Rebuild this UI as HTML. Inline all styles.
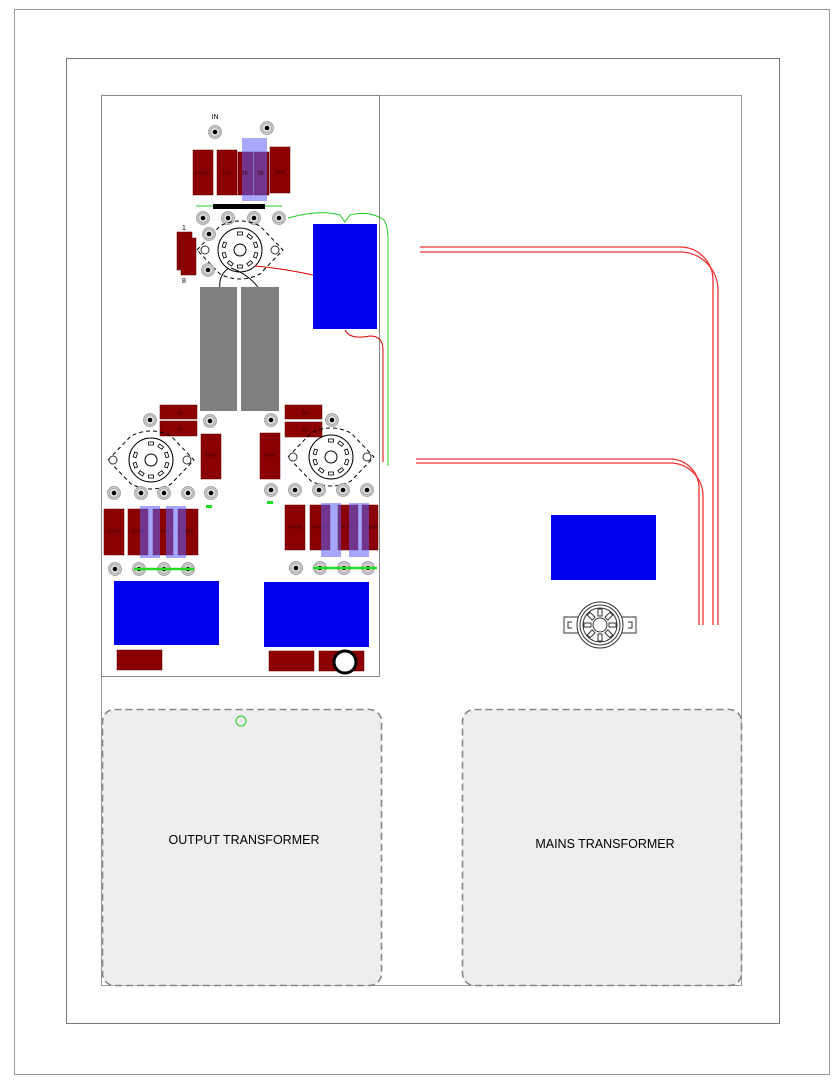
<!DOCTYPE html>
<html><head><style>body{margin:0;background:#fff}svg{display:block}</style></head><body>
<svg width="839" height="1080" viewBox="0 0 839 1080" xmlns="http://www.w3.org/2000/svg" font-family="Liberation Sans, sans-serif">
<defs>
<g id="t"><circle r="6.5" fill="#c8c8c8" stroke="#999" stroke-width="0.8"/><circle r="4.3" fill="#e6e6e6" stroke="#999" stroke-width="0.6"/><circle r="2.3" fill="#000"/></g>
<g id="pins" fill="#fff" stroke="#000" stroke-width="0.8">
<rect x="-2.5" y="-18" width="5" height="3"/>
<rect x="-2.5" y="-18" width="5" height="3" transform="rotate(36)"/>
<rect x="-2.5" y="-18" width="5" height="3" transform="rotate(72)"/>
<rect x="-2.5" y="-18" width="5" height="3" transform="rotate(108)"/>
<rect x="-2.5" y="-18" width="5" height="3" transform="rotate(144)"/>
<rect x="-2.5" y="-18" width="5" height="3" transform="rotate(180)"/>
<rect x="-2.5" y="-18" width="5" height="3" transform="rotate(216)"/>
<rect x="-2.5" y="-18" width="5" height="3" transform="rotate(252)"/>
<rect x="-2.5" y="-18" width="5" height="3" transform="rotate(288)"/>
</g>
<g id="sock">
<path d="M-43 0 L-20 -24 Q0 -34 20 -24 L43 0 L20 24 Q0 34 -20 24 Z" fill="none" stroke="#000" stroke-width="1" stroke-dasharray="4,3"/>
<circle r="22" fill="#fff" stroke="#000"/><circle r="6" fill="none" stroke="#000"/>
<use href="#pins"/>
</g>
</defs>
<rect x="14.5" y="9.5" width="815" height="1065" fill="#fff" stroke="#999"/>
<rect x="66.5" y="58.5" width="713" height="965" fill="#fff" stroke="#777"/>
<rect x="101.5" y="95.5" width="640" height="890" fill="#fff" stroke="#999"/>
<rect x="101.5" y="95.5" width="278" height="581" fill="#fff" stroke="#888"/>

<rect x="102.5" y="709.5" width="279" height="276" rx="12" fill="#eee" stroke="#888" stroke-width="1.6" stroke-dasharray="7,4"/>
<rect x="462.5" y="709.5" width="279" height="276" rx="12" fill="#eee" stroke="#888" stroke-width="1.6" stroke-dasharray="7,4"/>
<text x="244" y="844" font-size="12.5" text-anchor="middle">OUTPUT TRANSFORMER</text>
<text x="605" y="848" font-size="12.5" text-anchor="middle">MAINS TRANSFORMER</text>
<circle cx="241" cy="721" r="5" fill="none" stroke="#2c2" stroke-width="1"/>

<g fill="none" stroke="#e33" stroke-width="1.3">
<path d="M420 247 H680 A33 33 0 0 1 713 280 V625"/>
<path d="M420 252 H680 A38 38 0 0 1 718 290 V625"/>
<path d="M416 459 H670 A29 29 0 0 1 699 488 V625"/>
<path d="M416 463 H670 A33 33 0 0 1 703 496 V625"/>
</g>

<rect x="551" y="515" width="105" height="65" fill="#0000ee"/>
<g transform="translate(600,625)" fill="none" stroke="#333" stroke-width="1">
<path d="M-22 -8 H-36 V8 H-22 M-28 -3 H-32 V3 H-28" /><path d="M22 -8 H36 V8 H22 M28 -3 H32 V3 H28"/>
<circle r="23" fill="#fff"/><circle r="20"/><circle r="17"/>
<circle r="7"/>
<g><rect x="-2" y="-16" width="4" height="7"/><rect x="-2" y="-16" width="4" height="7" transform="rotate(45)"/><rect x="-2" y="-16" width="4" height="7" transform="rotate(90)"/><rect x="-2" y="-16" width="4" height="7" transform="rotate(135)"/><rect x="-2" y="-16" width="4" height="7" transform="rotate(180)"/><rect x="-2" y="-16" width="4" height="7" transform="rotate(225)"/><rect x="-2" y="-16" width="4" height="7" transform="rotate(270)"/><rect x="-2" y="-16" width="4" height="7" transform="rotate(315)"/></g>
</g>

<text x="215" y="119" font-size="7" text-anchor="middle">IN</text>
<use href="#t" x="215" y="132"/><use href="#t" x="267" y="128"/>
<g fill="#8b0000" stroke="#600" stroke-width="0.5">
<rect x="193" y="150" width="20" height="45"/><rect x="217" y="150" width="20" height="45"/>
<rect x="238" y="152" width="15" height="43"/><rect x="254" y="152" width="15" height="43"/>
<rect x="270" y="147" width="20" height="46"/>
</g>
<rect x="242" y="138" width="25" height="63" fill="#6060ff" opacity="0.55"/>
<g font-size="5.5" fill="#400" text-anchor="middle">
<text x="203" y="175">4700K</text><text x="227" y="175">10K</text><text x="245" y="175">2K</text><text x="261" y="175">2K</text><text x="280" y="174">100K</text></g>
<line x1="196" y1="206" x2="282" y2="206" stroke="#2c2" stroke-width="1"/>
<rect x="213" y="204" width="52" height="5" fill="#000"/>
<use href="#t" x="203" y="218"/><use href="#t" x="228" y="218"/><use href="#t" x="254" y="218"/><use href="#t" x="279" y="218"/>
<g fill="#8b0000" stroke="#600" stroke-width="0.5"><rect x="177" y="232" width="15" height="38"/><rect x="181" y="238" width="15" height="37"/></g>
<text x="184" y="230" font-size="7" text-anchor="middle">1</text><text x="184" y="283" font-size="7" text-anchor="middle">8</text>
<g transform="translate(240,250)"><use href="#sock"/>
<circle cx="-35" r="4" fill="#fff" stroke="#333"/><circle cx="35" r="4" fill="#fff" stroke="#333"/></g>
<use href="#t" x="209" y="234"/><use href="#t" x="208" y="270"/>
<path d="M255 266 Q280 268 313 275" fill="none" stroke="#d00"/>
<path d="M229 268 Q218 275 220 290 M231 268 Q250 275 260 290" fill="none" stroke="#000"/>
<rect x="313" y="224" width="64" height="105" fill="#0000ee"/>
<path d="M288 218 Q320 209 340 215 L345 222 L350 215 Q370 210 384 220 Q388 226 388 240 V466" fill="none" stroke="#2c2" stroke-width="1"/>
<path d="M345 330 Q350 340 370 336 Q383 336 383 350 V462" fill="none" stroke="#d00" stroke-width="1"/>
<rect x="200" y="287" width="37" height="124" fill="#808080"/><rect x="241" y="287" width="38" height="124" fill="#808080"/>

<g fill="#8b0000" stroke="#600" stroke-width="0.5">
<rect x="160" y="405" width="37" height="14"/><rect x="160" y="421" width="37" height="15"/>
<rect x="285" y="405" width="37" height="14"/><rect x="285" y="422" width="37" height="15"/>
<rect x="201" y="434" width="20" height="45"/><rect x="260" y="433" width="20" height="46"/>
<rect x="104" y="509" width="20" height="46"/><rect x="128" y="509" width="20" height="46"/><rect x="153" y="509" width="20" height="46"/><rect x="178" y="509" width="20" height="46"/>
<rect x="285" y="505" width="20" height="45"/><rect x="310" y="505" width="20" height="45"/><rect x="338" y="505" width="20" height="45"/><rect x="362" y="505" width="16" height="45"/>
<rect x="117" y="650" width="45" height="20"/><rect x="269" y="651" width="45" height="20"/><rect x="319" y="651" width="45" height="20"/>
</g>
<g font-size="5.5" fill="#400" text-anchor="middle">
<text x="180" y="415">5K</text><text x="180" y="431">5K</text><text x="305" y="415">5K</text><text x="305" y="432">5K</text>
<text x="211" y="457">470K</text><text x="270" y="457">470K</text>
<text x="114" y="533">470R</text><text x="138" y="533">470R</text><text x="163" y="533">470R</text><text x="188" y="533">430R</text>
<text x="295" y="529">470R</text><text x="320" y="529">470R</text><text x="348" y="529">470R</text><text x="371" y="529">430R</text>
</g>
<g fill="#6060ff" opacity="0.55"><rect x="140" y="506" width="20" height="52"/><rect x="166" y="506" width="20" height="52"/><rect x="321" y="503" width="20" height="54"/><rect x="349" y="503" width="20" height="54"/></g>
<use href="#t" x="150" y="420"/><use href="#t" x="210" y="421"/><use href="#t" x="271" y="420"/><use href="#t" x="332" y="420"/>
<g transform="translate(151,460)"><use href="#sock"/>
<circle cx="-38" r="4" fill="#fff" stroke="#333"/><circle cx="36" r="4" fill="#fff" stroke="#333"/></g>
<g transform="translate(331,457)"><use href="#sock"/>
<circle cx="-38" r="4" fill="#fff" stroke="#333"/><circle cx="36" r="4" fill="#fff" stroke="#333"/></g>
<use href="#t" x="114" y="493"/><use href="#t" x="141" y="493"/><use href="#t" x="164" y="493"/><use href="#t" x="188" y="493"/><use href="#t" x="211" y="493"/>
<use href="#t" x="271" y="490"/><use href="#t" x="295" y="490"/><use href="#t" x="319" y="490"/><use href="#t" x="343" y="490"/><use href="#t" x="367" y="490"/>
<rect x="206" y="505" width="6" height="3" fill="#2d2"/><rect x="267" y="501" width="6" height="3" fill="#2d2"/>
<use href="#t" x="115" y="569"/><use href="#t" x="139" y="569"/><use href="#t" x="164" y="569"/><use href="#t" x="188" y="569"/>
<use href="#t" x="296" y="568"/><use href="#t" x="320" y="568"/><use href="#t" x="344" y="568"/><use href="#t" x="368" y="568"/>
<line x1="134" y1="569" x2="194" y2="569" stroke="#2d2" stroke-width="2.5"/>
<line x1="313" y1="568" x2="377" y2="568" stroke="#2d2" stroke-width="2.5"/>
<rect x="114" y="581" width="105" height="64" fill="#0000ee"/>
<rect x="264" y="582" width="105" height="65" fill="#0000ee"/>
<circle cx="345" cy="662" r="11" fill="#fff" stroke="#000" stroke-width="3"/>
</svg>
</body></html>
